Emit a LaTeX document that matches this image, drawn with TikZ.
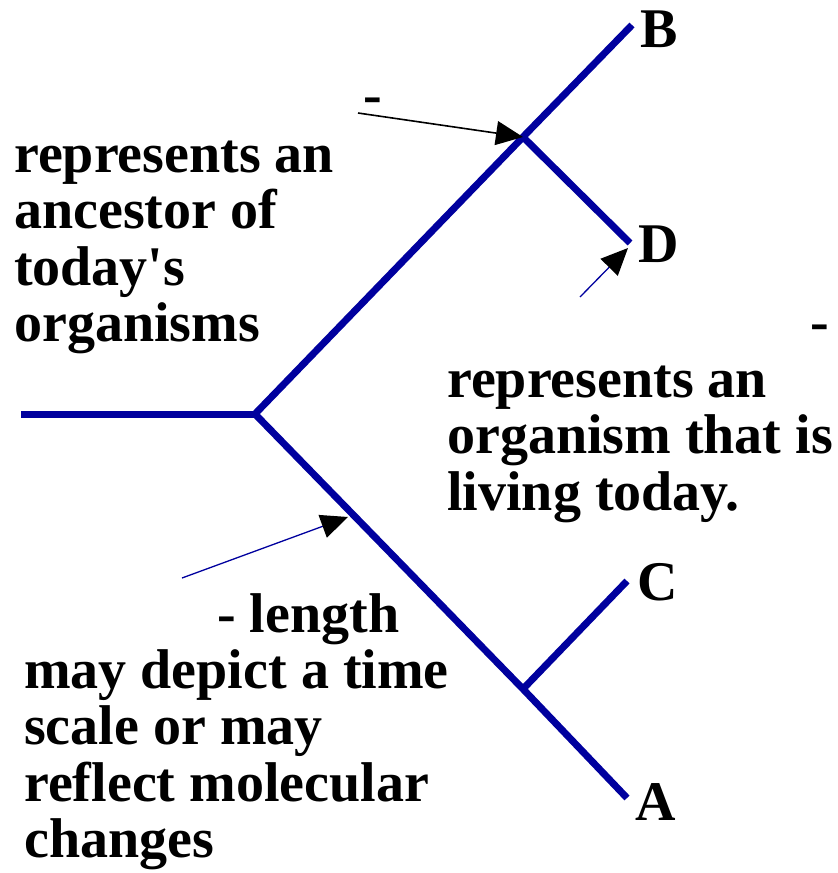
\documentclass[tikz,border=0pt]{standalone}
\usepackage{fontspec}
\setmainfont{Liberation Serif}
\usepackage{xcolor}
\usepackage{tikz}
\usetikzlibrary{arrows.meta,positioning}
\definecolor{treeblue}{RGB}{0,0,158}
\tikzset{
    branch/.style={draw=treeblue, line width=7pt, line join=round},
    caption/.style={inner sep=0pt, anchor=north west, align=left, font=\fontsize{56}{56.5}\selectfont\bfseries},
    leaf/.style={inner sep=0pt, anchor=base west, font=\fontsize{56}{56.5}\selectfont\bfseries},
    line/.style={draw, line width=1.6pt, -{Triangle[length=27pt,width=24pt]}},
    bline/.style={draw=treeblue, line width=1.3pt, -{Triangle[length=27pt,width=24pt,black]}}
}

\begin{document}
\begin{tikzpicture}[x=1pt, y=-1pt]
    \useasboundingbox (0,0) rectangle (838,873);

    % tree
    \coordinate (root) at (21,414);
    \coordinate (split) at (255,414);
    \coordinate (upper) at (523,137);
    \coordinate (lower) at (523,689);
    \coordinate (tipB) at (632,25);
    \coordinate (tipD) at (630,243);
    \coordinate (tipC) at (627,581);
    \coordinate (tipA) at (627,798);

    \draw[branch] (root) -- (split);
    \draw[branch] (tipB) -- (upper) -- (split) -- (lower) -- (tipA);
    \draw[branch] (upper) -- (tipD);
    \draw[branch] (lower) -- (tipC);

    \node[leaf] (B) at (640,47) {B};
    \node[leaf] (D) at (638,262) {D};
    \node[leaf] (C) at (637,600) {C};
    \node[leaf] (A) at (635,820) {A};

    % labels
    \node[caption] (ancestor) at (14,132.5) {\strut represents an\\ancestor of\\today\textquotesingle s\\organisms};
    \node[leaf] (ancdash) at (363,113) {-};
    \node[leaf] (livingdash) at (810,340) {-};
    \node[caption] (living) at (447,357.5) {\strut represents an\\organism that is\\living today.};
    \node[leaf] (lengthdash) at (217,632) {- length};
    \node[caption] (length) at (24,648.5) {\strut may depict a time\\scale or may\\reflect molecular\\changes};

    % pointers
    \coordinate (ancfrom) at (358,113);
    \coordinate (dfrom) at (580,297);
    \coordinate (dpoint) at (628,248);
    \coordinate (lenfrom) at (182,578);
    \coordinate (lenpoint) at (348,517);

    \draw[line] (ancfrom) -- (upper);
    \draw[bline] (dfrom) -- (dpoint);
    \draw[bline] (lenfrom) -- (lenpoint);
\end{tikzpicture}
\end{document}
